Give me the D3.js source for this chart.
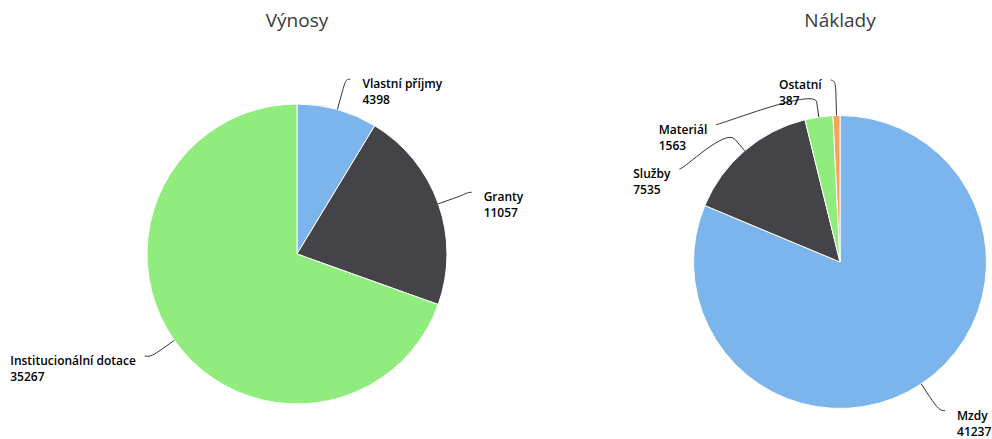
<!DOCTYPE html>
<head>
<meta charset="utf-8">
<script src="https://d3js.org/d3.v7.min.js"></script>
<style>
    body { margin: 0; background: #fff; }
    .title {
        font-family: "Open Sans", sans-serif;
        font-size: 19px;
        fill: #3a3a3a;
    }
    .label text {
        font-family: "Open Sans", sans-serif;
        font-size: 12px;
        font-weight: 600;
        fill: #000;
    }
    .connector {
        fill: none;
        stroke: #333;
        stroke-width: 1px;
    }
    .slice {
        stroke: #fff;
        stroke-width: 1px;
    }
</style>
</head>
<body>
<svg width="992" height="439"></svg>
<script>
    // data
    var vynosyNames = ["Vlastní příjmy", "Granty", "Institucionální dotace"];
    var vynosyValues = [4398, 11057, 35267];
    var nakladyNames = ["Mzdy", "Služby", "Materiál", "Ostatní"];
    var nakladyValues = [41237, 7535, 1563, 387];
    var colors = ["#7cb5ec", "#434348", "#90ed7d", "#f7a35c"];

    var svg = d3.select("svg");

    // distance = label distance from the pie edge
    var charts = [
        {title: "Výnosy", names: vynosyNames, values: vynosyValues, cx: 297, cy: 254, r: 150, distance: 30},
        {title: "Náklady", names: nakladyNames, values: nakladyValues, cx: 840, cy: 262, r: 146.5, distance: 34}
    ];

    var breakOffset = 15,   // where the connector bends
        slotHeight = 44.5;  // min vertical gap between labels on one side

    charts.forEach(drawPie);

    function drawPie(c) {
        var data = c.names.map(function(n, i) { return {name: n, value: c.values[i], color: colors[i]}; });

        var pie = d3.pie().sort(null).value(function(d) { return d.value; });
        var arcs = pie(data);
        var arc = d3.arc().innerRadius(0).outerRadius(c.r);

        svg.append("text")
            .attr("class", "title")
            .attr("x", c.cx)
            .attr("y", 27)
            .attr("text-anchor", "middle")
            .text(c.title);

        var g = svg.append("g").attr("transform", "translate(" + c.cx + "," + c.cy + ")");

        g.selectAll(".slice")
            .data(arcs)
            .enter().append("path")
            .attr("class", "slice")
            .attr("d", arc)
            .attr("fill", function(d) { return d.data.color; });

        // label layout, roughly the way Highcharts does it
        var R = c.r + c.distance;
        arcs.forEach(function(d) {
            var a = (d.startAngle + d.endAngle) / 2;
            d.left = a > Math.PI;
            d.ny = -R * Math.cos(a);
            d.touch = [c.r * Math.sin(a), -c.r * Math.cos(a)];
            d.brk = [(c.r + breakOffset) * Math.sin(a), -(c.r + breakOffset) * Math.cos(a)];
        });

        [true, false].forEach(function(side) {
            var list = arcs.filter(function(d) { return d.left === side; })
                .sort(function(a, b) { return a.ny - b.ny; });
            var prev = -Infinity;
            list.forEach(function(d) {
                d.y = Math.max(d.ny, prev + slotHeight);
                prev = d.y;
                var dx = Math.sqrt(Math.max(0, R * R - d.y * d.y));
                d.x = side ? -dx : dx;
            });
        });

        g.selectAll(".connector")
            .data(arcs)
            .enter().append("path")
            .attr("class", "connector")
            .attr("d", function(d) {
                var y = d.y - 1.5;
                var sx = d.x + (d.left ? -5 : 5);
                return "M" + sx + "," + y
                    + "C" + d.x + "," + y
                    + " " + (2 * d.brk[0] - d.touch[0]) + "," + (2 * d.brk[1] - d.touch[1])
                    + " " + d.brk[0] + "," + d.brk[1]
                    + "L" + d.touch[0] + "," + d.touch[1];
            });

        var labels = g.selectAll(".label")
            .data(arcs)
            .enter().append("g")
            .attr("class", "label");

        labels.append("text")
            .attr("y", function(d) { return d.y + 7.5; })
            .text(function(d) { return d.data.name; });
        labels.append("text")
            .attr("y", function(d) { return d.y + 23.5; })
            .text(function(d) { return d.data.value; });

        // left-aligned lines inside a block that hangs off the connector
        labels.each(function(d) {
            var lab = d3.select(this);
            var w = 0;
            lab.selectAll("text").each(function() { w = Math.max(w, this.getComputedTextLength()); });
            var x0 = d.left ? d.x - 14 - w : d.x + 17;
            lab.selectAll("text").attr("x", x0);
        });
    }
</script>
</body>
